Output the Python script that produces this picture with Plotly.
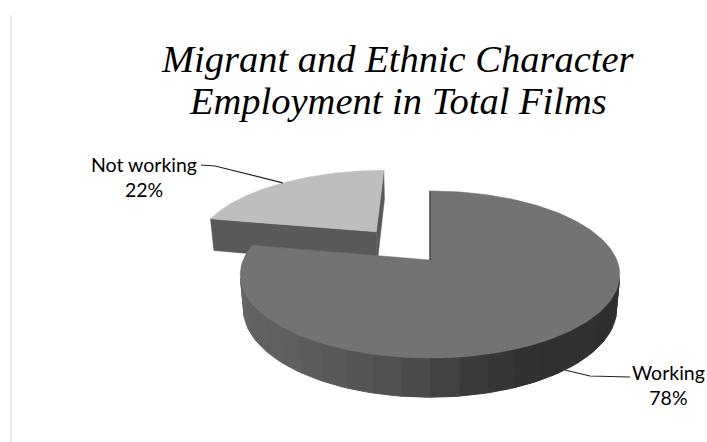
import numpy as np
import plotly.graph_objects as go

# ---- data -------------------------------------------------------------
categories = ["Working", "Not working"]
percent = [78, 22]
label_lines = [["Working", "78%"], ["Not working", "22%"]]

# ---- styling ----------------------------------------------------------
top_colors = {"Working": "#737373", "Not working": "#bebebe"}
face_colors = {"Working": "#4a4a4a", "Not working": "#595959"}
pull = {"Working": 0.0, "Not working": 0.48}
title_lines = ["Migrant and Ethnic Character", "Employment in Total Films"]

W, H = 707, 442

# perspective camera for the 3-D pie (unit-radius disc, top face at z = 0)
TILT = np.radians(25.7)
DIST = 5.19
FOCAL = 970.0
CX, CY = 430.0, 260.0
DEPTH = 0.206
COS, SIN = np.cos(TILT), np.sin(TILT)
CAM = np.array([0.0, -DIST * COS, DIST * SIN])

# side shading by outward-normal angle (light coming from the left/front)
SHADE_ANG = [-200, -175, -128, -112, -104, -93, -79, -65, -30, 0, 30]
SHADE_VAL = [0x69, 0x66, 0x5e, 0x57, 0x52, 0x4a, 0x3a, 0x31, 0x2f, 0x2e, 0x2e]


def shade(deg):
    d = (deg + 180.0) % 360.0 - 180.0
    if d > 30:
        d -= 360.0
    v = int(round(np.interp(d, SHADE_ANG, SHADE_VAL)))
    return f"rgb({v},{v},{v})"


def project(X, Y, Z):
    X, Y, Z = (np.asarray(v, dtype=float) for v in (X, Y, Z))
    d = Y * COS - Z * SIN + DIST
    return CX + FOCAL * X / d, CY - FOCAL * (Y * SIN + Z * COS) / d


def visible(px, py, nx, ny):
    return nx * (CAM[0] - px) + ny * (CAM[1] - py) > 0


fig = go.Figure()


def poly(xs, ys, color, lw=1.0):
    fig.add_trace(go.Scatter(
        x=np.append(xs, xs[0]), y=np.append(ys, ys[0]),
        mode="lines", fill="toself", fillcolor=color,
        line=dict(width=lw, color=color),
        hoverinfo="skip", showlegend=False))


# slice angles: first slice starts at 12 o'clock and runs clockwise
fractions = np.array(percent, dtype=float) / sum(percent)
slices = []
a = 90.0
for name, f, lab in zip(categories, fractions, label_lines):
    hi, lo = a, a - 360.0 * f
    mid = np.radians((hi + lo) / 2)
    ox, oy = pull[name] * np.cos(mid), pull[name] * np.sin(mid)
    slices.append(dict(name=name, hi=hi, lo=lo, mid=mid, ox=ox, oy=oy, label=lab))
    a = lo

# paint the farthest slice first
for s in sorted(slices, key=lambda s: -np.sin(s["mid"])):
    ox, oy, hi, lo = s["ox"], s["oy"], s["hi"], s["lo"]

    # flat radial faces
    for ang, sign in ((hi, 1), (lo, -1)):
        r = np.radians(ang)
        nx, ny = -np.sin(r) * sign, np.cos(r) * sign
        if visible(ox, oy, nx, ny):
            X = [ox, ox + np.cos(r), ox + np.cos(r), ox]
            Y = [oy, oy + np.sin(r), oy + np.sin(r), oy]
            Z = [0, 0, -DEPTH, -DEPTH]
            px, py = project(X, Y, Z)
            poly(px, py, face_colors[s["name"]], lw=0.5)

    # curved outer wall, split into facets
    step = 7.5
    edges = np.arange(hi, lo - 1e-9, -step)
    if edges[-1] > lo:
        edges = np.append(edges, lo)
    for t0, t1 in zip(edges[:-1], edges[1:]):
        th = np.radians(np.linspace(t0, t1, 40))
        X = ox + np.cos(th)
        Y = oy + np.sin(th)
        vis = visible(X, Y, np.cos(th), np.sin(th))
        if vis.sum() < 2:
            continue
        th, X, Y = th[vis], X[vis], Y[vis]
        tx, ty = project(X, Y, np.zeros_like(X))
        bx, by = project(X, Y, np.full_like(X, -DEPTH))
        poly(np.concatenate([tx, bx[::-1]]), np.concatenate([ty, by[::-1]]),
             shade(np.degrees(th.mean())))

    # top face
    th = np.radians(np.linspace(hi, lo, 200))
    X = np.concatenate([[ox], ox + np.cos(th)])
    Y = np.concatenate([[oy], oy + np.sin(th)])
    px, py = project(X, Y, np.zeros_like(X))
    poly(px, py, top_colors[s["name"]], lw=0.5)

    if s["name"] == "Working":
        # dark crease along the slice's 12 o'clock edge
        ex, ey = project([ox, ox], [oy, oy + 1], [0, 0])
        fig.add_trace(go.Scatter(x=ex, y=ey, mode="lines",
                                 line=dict(color="#333333", width=1.2),
                                 hoverinfo="skip", showlegend=False))

# ---- data labels with leader lines ---------------------------------------
label_font = dict(family="Lato, Open Sans, sans-serif", size=19.5, color="#000000")
label_pos = {"Working": (668, 385), "Not working": (144, 177)}
leader_elbow = {"Working": [(630, 377), (590, 376)],
                "Not working": [(201, 165), (215, 166)]}

shapes = []
for s in slices:
    m = s["mid"]
    if s["name"] == "Working":
        ax, ay = project(s["ox"] + np.cos(m), s["oy"] + np.sin(m), -DEPTH)
    else:
        ax, ay = project(s["ox"] + np.cos(m), s["oy"] + np.sin(m), 0.0)
    pts = leader_elbow[s["name"]] + [(float(ax), float(ay))]
    path = "M " + " L ".join(f"{x:.1f},{y:.1f}" for x, y in pts)
    shapes.append(dict(type="path", path=path, xref="x", yref="y",
                       line=dict(color="#222222", width=1.2)))
    lx, ly = label_pos[s["name"]]
    fig.add_annotation(x=lx, y=ly, xref="x", yref="y", showarrow=False,
                       text="<br>".join(s["label"]), font=label_font,
                       align="center", xanchor="center", yanchor="middle")

# thin frame line on the left of the chart area
shapes.append(dict(type="line", xref="x", yref="y", x0=11, x1=11, y0=15, y1=H,
                   line=dict(color="#e2e2e2", width=1.5)))

# ---- title ---------------------------------------------------------------
title_font = dict(family="Liberation Serif, Times New Roman, serif", size=38.5,
                  color="#000000", style="italic")
for txt, ty in zip(title_lines, [59, 101]):
    fig.add_annotation(x=398, y=ty, xref="x", yref="y", showarrow=False,
                       text=txt, font=title_font,
                       xanchor="center", yanchor="middle")

fig.update_layout(
    width=W, height=H,
    margin=dict(l=0, r=0, t=0, b=0),
    paper_bgcolor="white", plot_bgcolor="white",
    xaxis=dict(range=[0, W], visible=False, fixedrange=True),
    yaxis=dict(range=[H, 0], visible=False, fixedrange=True),
    shapes=shapes,
    showlegend=False,
)

fig.write_html("out.html")
